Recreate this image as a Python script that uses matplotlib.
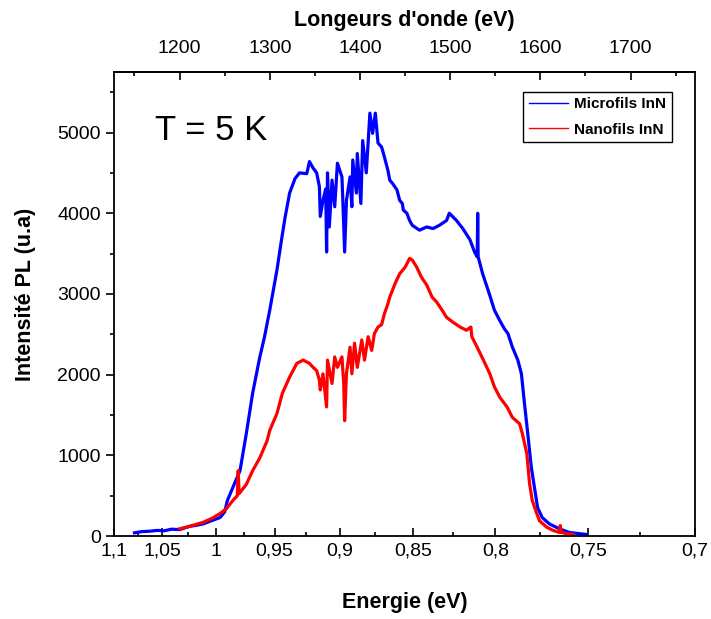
# Spectres PL InN a 5 K
import numpy as np
import matplotlib.pyplot as plt

plt.rcParams['font.family'] = ['Liberation Sans', 'DejaVu Sans']

# longueur d'onde (nm) / intensite PL - Microfils InN
lam_micro = [1150, 1158, 1167, 1175, 1183, 1191, 1200, 1211, 1217, 1226, 1233, 1245,
             1250, 1253, 1259, 1267, 1274, 1281, 1289, 1294, 1300, 1308, 1313, 1317,
             1322, 1328, 1333, 1341, 1344, 1348, 1352, 1355, 1356, 1359, 1362, 1363,
             1364, 1366, 1369, 1372, 1375, 1380, 1381, 1383, 1385, 1389, 1391, 1392,
             1396, 1397, 1401, 1403, 1407, 1411, 1414, 1417, 1420, 1424, 1427, 1431,
             1433, 1436, 1441, 1444, 1447, 1448, 1452, 1455, 1458, 1466, 1474, 1481,
             1488, 1496, 1499, 1507, 1514, 1522, 1527, 1530, 1530.5, 1531, 1536, 1544,
             1549, 1555, 1560, 1564, 1569, 1575, 1579, 1582, 1586, 1590, 1594, 1597,
             1602, 1610, 1621, 1632, 1643, 1651]
int_micro = [40, 55, 60, 70, 65, 85, 80, 120, 130, 150, 180, 230,
             300, 440, 600, 810, 1270, 1770, 2220, 2460, 2800, 3300, 3670, 3950,
             4250, 4430, 4500, 4490, 4640, 4560, 4500, 4330, 3960, 4160, 4300, 3520,
             4500, 3830, 4410, 4080, 4620, 4450, 4160, 3520, 4160, 4450, 4080, 4660,
             4250, 4740, 4120, 4900, 4500, 5240, 4990, 5240, 4870, 4820, 4700, 4530,
             4410, 4370, 4290, 4160, 4120, 4040, 4000, 3910, 3850, 3790, 3830, 3810,
             3850, 3910, 4000, 3910, 3810, 3670, 3520, 3460, 4000, 3460, 3250, 2980,
             2800, 2670, 2570, 2510, 2340, 2180, 2010, 1680, 1270, 850, 560, 350,
             230, 150, 90, 45, 30, 20]

# Nanofils InN
lam_nano = [1200, 1211, 1226, 1236, 1245, 1252, 1259, 1264, 1265, 1266, 1274, 1281,
            1289, 1297, 1300, 1308, 1314, 1322, 1330, 1337, 1344, 1348, 1352, 1355,
            1356, 1359, 1363, 1364, 1369, 1372, 1375, 1380, 1382, 1383, 1385, 1389,
            1391, 1394, 1397, 1402, 1405, 1409, 1413, 1416, 1420, 1424, 1427, 1431,
            1433, 1439, 1444, 1450, 1455, 1458, 1463, 1468, 1474, 1480, 1485, 1491,
            1496, 1503, 1511, 1518, 1523, 1524, 1529, 1536, 1544, 1549, 1555, 1563,
            1569, 1577, 1580, 1585, 1588, 1591, 1596, 1599, 1607, 1614, 1621, 1622,
            1623, 1629, 1636]
int_nano = [90, 120, 170, 220, 280, 340, 440, 500, 810, 525, 640, 810,
            970, 1180, 1310, 1520, 1770, 1970, 2140, 2180, 2140, 2090, 2050, 1930,
            1810, 2010, 1600, 2180, 1890, 2220, 2090, 2220, 1890, 1430, 2010, 2340,
            2010, 2390, 2090, 2430, 2180, 2470, 2300, 2510, 2590, 2620, 2750, 2880,
            2960, 3130, 3250, 3330, 3440, 3420, 3330, 3210, 3110, 2960, 2900, 2800,
            2710, 2650, 2590, 2550, 2590, 2470, 2360, 2200, 2010, 1850, 1720, 1600,
            1470, 1390, 1270, 1020, 650, 440, 280, 190, 110, 70, 45, 130,
            45, 30, 20]

energies = [1.1, 1.05, 1.0, 0.95, 0.9, 0.85, 0.8, 0.75, 0.7]
energy_labels = ['1,1', '1,05', '1', '0,95', '0,9', '0,85', '0,8', '0,75', '0,7']
wl_ticks = [1200, 1300, 1400, 1500, 1600, 1700]

fig = plt.figure(figsize=(7.11, 6.19), dpi=100)
ax = fig.add_axes([0.1603, 0.134, 0.8172, 0.7497])

ax.plot(lam_micro, int_micro, color='#0000ff', linewidth=2.3)
ax.plot(lam_nano, int_nano, color='#ff0000', linewidth=2.3)

ax.set_xlim(1240 / 1.1, 1240 / 0.7)
ax.set_ylim(0, 5750)

# axe du bas : energie (1240/lambda)
ax.set_xticks([1240 / e for e in energies])
ax.set_xticklabels(energy_labels)
mids = [(energies[i] + energies[i + 1]) / 2 for i in range(len(energies) - 1)]
ax.set_xticks([1240 / e for e in mids], minor=True)
ax.tick_params(axis='x', which='major', direction='in', length=6, width=1.2,
               labelsize=14, pad=5)
ax.tick_params(axis='x', which='minor', direction='in', length=3, width=1.2)

ax.set_yticks(range(0, 6000, 1000))
ax.set_yticks(range(500, 6000, 1000), minor=True)
ax.tick_params(axis='y', which='major', direction='out', length=6, width=1.2,
               labelsize=14)
ax.tick_params(axis='y', which='minor', direction='out', length=3, width=1.2)

# axe du haut : longueur d'onde
top = ax.secondary_xaxis('top', functions=(lambda x: x, lambda x: x))
top.set_xticks(wl_ticks)
top.set_xticks([w - 50 for w in wl_ticks] + [1750], minor=True)
top.tick_params(axis='x', which='major', direction='in', length=6, width=1.2,
                labelsize=14, pad=10.5)
top.tick_params(axis='x', which='minor', direction='in', length=3, width=1.2)
top.set_xlabel("Longeurs d'onde (eV)", fontsize=15.5, fontweight='bold', labelpad=10.5)
top.spines['top'].set_linewidth(1.3)

for s in ax.spines.values():
    s.set_linewidth(1.3)

ax.set_xlabel('Energie (eV)', fontsize=15.5, fontweight='bold', labelpad=23)
ax.set_ylabel('Intensité PL (u.a)', fontsize=15.5, fontweight='bold')
ax.yaxis.set_label_coords(-0.135, 0.52)

ax.text(0.07, 0.873, 'T = 5 K', transform=ax.transAxes, fontsize=25, va='center')

leg = ax.legend(['Microfils InN', 'Nanofils InN'], loc='upper right',
                bbox_to_anchor=(0.960, 0.957), borderaxespad=0, fancybox=False,
                edgecolor='black', framealpha=1, handlelength=2.6,
                prop={'weight': 'bold', 'size': 11}, borderpad=0.35,
                labelspacing=0.75, handletextpad=0.4)
leg.get_frame().set_linewidth(1.0)
for h in leg.get_lines():
    h.set_linewidth(1.0)

fig.savefig('out.png', dpi=100)
